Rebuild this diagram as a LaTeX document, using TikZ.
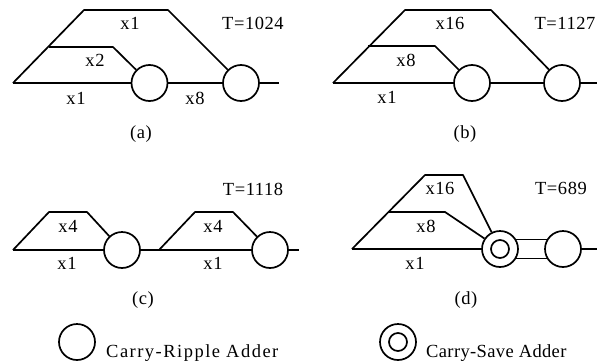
\documentclass[tikz,border=0pt]{standalone}
\usepackage{fontspec}
\setmainfont{Liberation Serif}
\usepackage{tikz}
\usetikzlibrary{positioning,calc}
\tikzset{
  adder/.style={circle,draw,fill=white,line width=1.7pt,minimum size=36pt,inner sep=0pt},
  saver/.style={circle,draw,line width=1.7pt,minimum size=18pt,inner sep=0pt},
  lbl/.style={inner sep=0pt,font=\fontsize{18.5}{20}\selectfont\addfontfeature{LetterSpace=3}},
  wire/.style={line width=1.7pt,line join=round}
}
\begin{document}
\begin{tikzpicture}[x=1pt,y=-1pt]
\useasboundingbox (0,0) rectangle (597,362);
% adders
\node[adder] (a1) at (149.5,83) {};
\node[adder] (a2) at (241,83) {};
\node[adder] (b1) at (472,83) {};
\node[adder] (b2) at (562,83) {};
\node[adder] (c1) at (122,250) {};
\node[adder] (c2) at (270,250) {};
\node[adder] (d1) at (500,249) {};
\node[saver] (d1i) at (d1) {};
\node[adder] (d2) at (563,249) {};
% (a)
\coordinate (a in) at (13,83);
\coordinate (a out) at (279,83);
\coordinate (a top) at (84,10);
\coordinate (a tl) at (168,10);
\coordinate (a mid) at (49,47);
\coordinate (a mr) at (113,47);
\draw[wire] (a in) -- (a1);
\draw[wire] (a1) -- (a2);
\draw[wire] (a2) -- (a out);
\draw[wire] (a in) -- (a top) -- (a tl) -- (a2);
\draw[wire] (a mid) -- (a mr) -- (a1);
% (b)
\coordinate (b in) at (333,83);
\coordinate (b out) at (597,83);
\coordinate (b top) at (405,10);
\coordinate (b tl) at (491,10);
\coordinate (b mid) at (368,46);
\coordinate (b mr) at (435,46);
\draw[wire] (b in) -- (b1);
\draw[wire] (b1) -- (b2);
\draw[wire] (b2) -- (b out);
\draw[wire] (b in) -- (b top) -- (b tl) -- (b2);
\draw[wire] (b mid) -- (b mr) -- (b1);
% (c)
\coordinate (c in) at (13,250);
\coordinate (c mid) at (159,250);
\coordinate (c out) at (299,250);
\draw[wire] (c in) -- (c1);
\draw[wire] (c1) -- (c2);
\draw[wire] (c2) -- (c out);
\draw[wire] (c in) -- (49,212) -- (87,212) -- (c1);
\draw[wire] (c mid) -- (195,212) -- (233,212) -- (c2);
% (d)
\coordinate (d in) at (352,249);
\coordinate (d out) at (597,249);
\coordinate (d top) at (425,175);
\coordinate (d tl) at (463,175);
\coordinate (d mid) at (388,212);
\coordinate (d mr) at (445,212);
\draw[wire] (d in) -- (d1);
\draw[wire] (d2) -- (d out);
\draw[wire] (d1.30) -- (d2.150);
\draw[wire] (d1.-30) -- (d2.-150);
\draw[wire] (d in) -- (d top) -- (d tl) -- (d1);
\draw[wire] (d mid) -- (d mr) -- (d1);
% weights
\foreach \x/\y/\v [count=\wi from 1] in {
130/23/x1,95/60/x2,76/98/x1,195/98/x8,
450/23/x16,406/60/x8,387/97/x1,
68/226/x4,213/226/x4,67/263/x1,213/263/x1,
440/188/x16,426/226/x8,415/263/x1}{
\node[lbl] (w\wi) at (\x,\y) {\v};
}
% delays and captions
\foreach \x/\y/\v [count=\ti from 1] in {
253/23/T=1024,565/23/T=1127,253/189/T=1118,561/188/T=689,
141/134/(a),465/134/(b),143/300/(c),466/300/(d)}{
\node[lbl] (t\ti) at (\x,\y) {\v};
}
% key
\node[adder] (kr) at (77,342) {};
\node[lbl,anchor=base west,font=\fontsize{18.5}{20}\selectfont\addfontfeature{LetterSpace=8}] (krt) at (106,357) {Carry-Ripple Adder};
\node[adder] (ks) at (398,342) {};
\node[saver] (ksi) at (ks) {};
\node[lbl,anchor=base west,font=\fontsize{18.5}{20}\selectfont\addfontfeature{LetterSpace=2}] (kst) at (426,357) {Carry-Save Adder};
\end{tikzpicture}
\end{document}
